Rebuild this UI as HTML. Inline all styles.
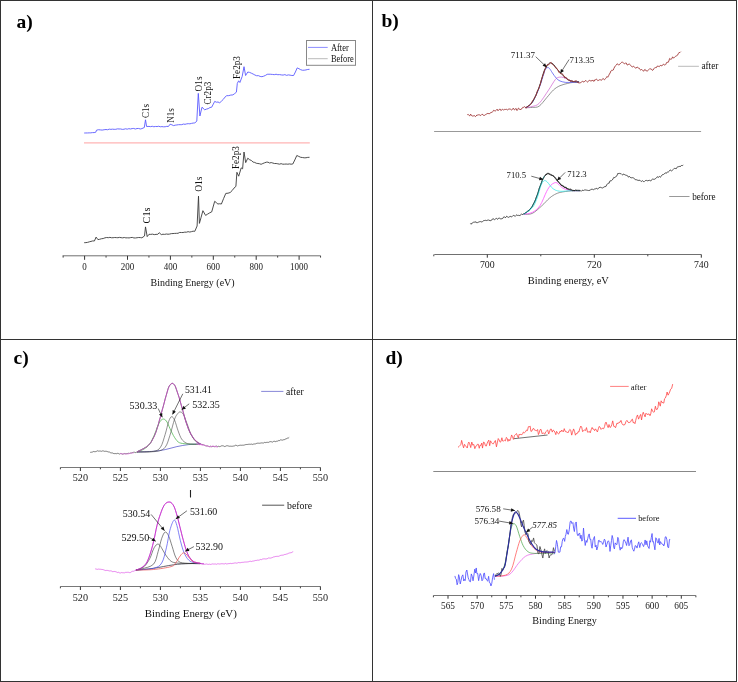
<!DOCTYPE html>
<html><head><meta charset="utf-8"><style>
html,body{margin:0;padding:0;background:#fff;}
svg{display:block;will-change:transform;font-family:"Liberation Serif",serif;}
</style></head><body>
<svg width="738" height="682" viewBox="0 0 738 682">
<rect x="0" y="0" width="738" height="682" fill="#fff"/>
<line x1="0.5" y1="0" x2="0.5" y2="682" stroke="#333" stroke-width="1.0"/>
<line x1="0" y1="0.5" x2="737" y2="0.5" stroke="#333" stroke-width="1.0"/>
<line x1="736.5" y1="0" x2="736.5" y2="682" stroke="#333" stroke-width="1.0"/>
<line x1="0" y1="681.5" x2="737" y2="681.5" stroke="#333" stroke-width="1.0"/>
<line x1="372.5" y1="0" x2="372.5" y2="682" stroke="#333" stroke-width="1.0"/>
<line x1="0" y1="339.5" x2="737" y2="339.5" stroke="#333" stroke-width="1.0"/>
<text x="16.5" y="27.8" font-size="19.5" fill="#000" font-weight="bold">a)</text>
<text x="381.5" y="26.7" font-size="19.5" fill="#000" font-weight="bold">b)</text>
<text x="13.5" y="364" font-size="19.5" fill="#000" font-weight="bold">c)</text>
<text x="385.5" y="364" font-size="19.5" fill="#000" font-weight="bold">d)</text>
<line x1="84" y1="142.8" x2="309.8" y2="142.8" stroke="#ffb4b4" stroke-width="1.2"/>
<polyline points="84.2,133 85.86,132.97 87.51,132.94 89.17,132.86 90.83,132.85 92.49,132.6 94.14,132.61 95.8,132.2 96.5,130.2 98.4,129.73 100.3,129.9 102.2,130.09 104.1,129.74 106,129.5 107.63,129.74 109.26,129.15 110.9,129.36 112.53,129.16 114.16,129.33 115.79,129.31 117.42,128.87 119.05,128.97 120.69,128.98 122.32,129.38 123.95,129.24 125.58,128.77 127.21,129.18 128.85,128.67 130.48,128.97 132.11,128.58 133.74,128.46 135.37,129.02 137,128.52 138.64,128.48 140.27,128.98 141.9,128.6 144.3,127.5 145.5,119.8 146.6,126.5 149,126.4 150.62,126.67 152.23,126.27 153.85,126.75 155.47,126.46 157.08,126.57 158.7,126.24 160.32,126.77 161.93,126.6 163.55,126.8 165.17,126.76 166.78,126.35 168.4,126.5 170.1,124.2 171.85,124.8 173.6,125.6 175.23,125.17 176.86,124.95 178.49,124.7 180.12,124.66 181.75,124.67 183.38,124.05 185.02,124.32 186.65,123.89 188.28,123.67 189.91,123.82 191.54,123.39 193.17,123.07 194.8,123 196.8,121 198.3,93.4 199.9,116 202,107.2 204.7,109.8 206.45,109.14 208.2,108.64 209.95,107.54 211.7,107.2 214.7,101.4 216.37,102.2 218.03,102 219.7,102.8 221.45,101.2 223.2,99.49 224.95,97.14 226.7,95.7 228.77,95.63 230.83,95.07 232.9,94.9 234.65,93.6 236.4,92.2 237.3,83.4 238.7,80.8 239.9,82.5 242.2,76.4 244,66.7 245.6,75.5 247.8,72 249.58,72.41 251.35,73.18 253.12,74.03 254.9,75 256.65,75.74 258.4,75.64 260.15,76.45 261.9,76.7 263.67,76.2 265.43,75.41 267.2,74.3 268.97,74.23 270.74,74.28 272.51,74.45 274.29,74.66 276.06,74.24 277.83,74.73 279.6,74.6 281.35,74.92 283.1,75.08 284.85,74.61 286.6,75.36 288.35,74.88 290.1,75.16 291.85,75.47 293.6,75.5 295.4,71.99 297.2,67.9 298.95,68.69 300.7,69.7 302.45,70.25 304.2,70.2 305.97,69.93 307.73,69.47 309.5,69.3" fill="none" stroke="#5a5aff" stroke-width="0.9" stroke-linejoin="round" />
<polyline points="84.2,242.7 85.9,242.62 87.6,242.36 89.3,241.84 91,241.4 92.7,240.93 94.4,241 96.1,237.1 97.9,239.6 99.66,239.29 101.42,238.74 103.18,238.52 104.94,237.83 106.7,237.5 108.3,237.7 109.9,237.37 111.5,237.75 113.1,237.72 114.7,237.51 116.3,237.61 117.9,237.72 119.5,237.39 121.1,237.66 122.7,237.85 124.3,237.49 125.9,237.88 127.5,237.81 129.1,237.93 130.7,237.59 132.3,237.43 133.9,237.94 135.5,237.96 137.1,237.72 138.7,237.49 140.3,237.57 141.9,237.8 144.5,236 145.5,226.9 147.2,236.6 149,234.3 150.76,234.39 152.52,234.15 154.28,234.62 156.04,234.36 157.8,234.3 159.2,232.7 161.3,234.6 162.98,234.23 164.65,234.38 166.33,234.01 168,234.24 169.68,234.06 171.35,233.62 173.03,233.55 174.7,233.42 176.38,233.33 178.05,233.28 179.73,232.45 181.4,232.52 183.08,232.53 184.75,232.15 186.43,232.19 188.1,231.67 189.78,232.06 191.45,231.65 193.12,231.2 194.8,231.3 197.1,226 198.5,196.1 199.4,223.4 201.15,217.16 202.9,210.7 205.6,215.4 207.63,214.1 209.67,212.85 211.7,211.9 214.7,201.3 216.3,202.64 217.9,204 219.65,203.75 221.4,204 223.6,198.5 225.8,193.4 228,193.21 230.2,192.5 232.1,190.61 234,188.09 235.9,186.4 236.9,172.3 238.7,176.2 241.2,167.9 242.6,168.8 244,152 245.7,162.6 247.8,158.2 249.57,159.69 251.33,160.46 253.1,162.1 254.7,162.42 256.3,163.26 257.9,163.5 259.5,163.72 261.1,164.3 262.83,163.51 264.57,162.82 266.3,162.2 267.94,162.17 269.59,163.01 271.23,162.57 272.87,163.06 274.51,163.52 276.16,163.5 277.8,163.8 279.47,164.16 281.13,163.67 282.8,164.2 284.47,164.16 286.13,164.03 287.8,164.21 289.47,163.92 291.13,164.21 292.8,164 294.8,159.96 296.8,155.5 298.75,156.41 300.7,157.3 302.45,157.53 304.2,157.8 305.97,157.78 307.73,157.4 309.5,157.3" fill="none" stroke="#3a3a3a" stroke-width="0.9" stroke-linejoin="round" />
<text transform="translate(149.2,118.1) rotate(-90)" font-size="10" fill="#111" textLength="14.3" lengthAdjust="spacingAndGlyphs">C1s</text>
<text transform="translate(174.2,122.7) rotate(-90)" font-size="10" fill="#111" textLength="14.6" lengthAdjust="spacingAndGlyphs">N1s</text>
<text transform="translate(201.6,91.4) rotate(-90)" font-size="10" fill="#111" textLength="15" lengthAdjust="spacingAndGlyphs">O1s</text>
<text transform="translate(211.4,104.6) rotate(-90)" font-size="10" fill="#111" textLength="22.9" lengthAdjust="spacingAndGlyphs">Cr2p3</text>
<text transform="translate(239.9,79) rotate(-90)" font-size="10" fill="#111" textLength="22.9" lengthAdjust="spacingAndGlyphs">Fe2p3</text>
<text transform="translate(149.5,223.4) rotate(-90)" font-size="10" fill="#111" textLength="15.9" lengthAdjust="spacingAndGlyphs">C1s</text>
<text transform="translate(201.5,191.7) rotate(-90)" font-size="10" fill="#111" textLength="15.2" lengthAdjust="spacingAndGlyphs">O1s</text>
<text transform="translate(238.7,169.1) rotate(-90)" font-size="10" fill="#111" textLength="22.9" lengthAdjust="spacingAndGlyphs">Fe2p3</text>
<rect x="306.5" y="40.5" width="49" height="24.8" fill="none" stroke="#888" stroke-width="1"/>
<line x1="308" y1="47.4" x2="327.7" y2="47.4" stroke="#8c8cff" stroke-width="1"/>
<line x1="308" y1="58.7" x2="327.7" y2="58.7" stroke="#bbb" stroke-width="1"/>
<text x="330.9" y="50.5" font-size="9.6" fill="#111" textLength="17.8" lengthAdjust="spacingAndGlyphs">After</text>
<text x="330.9" y="61.9" font-size="9.6" fill="#111" textLength="22.9" lengthAdjust="spacingAndGlyphs">Before</text>
<line x1="62.6" y1="255.8" x2="320.6" y2="255.8" stroke="#707070" stroke-width="1"/>
<line x1="84.6" y1="255.8" x2="84.6" y2="259.8" stroke="#333" stroke-width="1"/>
<line x1="127.5" y1="255.8" x2="127.5" y2="259.8" stroke="#333" stroke-width="1"/>
<line x1="170.4" y1="255.8" x2="170.4" y2="259.8" stroke="#333" stroke-width="1"/>
<line x1="213.3" y1="255.8" x2="213.3" y2="259.8" stroke="#333" stroke-width="1"/>
<line x1="256.2" y1="255.8" x2="256.2" y2="259.8" stroke="#333" stroke-width="1"/>
<line x1="299.1" y1="255.8" x2="299.1" y2="259.8" stroke="#333" stroke-width="1"/>
<line x1="63.15" y1="255.8" x2="63.15" y2="257.6" stroke="#444" stroke-width="1"/>
<line x1="106.05" y1="255.8" x2="106.05" y2="257.6" stroke="#444" stroke-width="1"/>
<line x1="148.95" y1="255.8" x2="148.95" y2="257.6" stroke="#444" stroke-width="1"/>
<line x1="191.85" y1="255.8" x2="191.85" y2="257.6" stroke="#444" stroke-width="1"/>
<line x1="234.75" y1="255.8" x2="234.75" y2="257.6" stroke="#444" stroke-width="1"/>
<line x1="277.65" y1="255.8" x2="277.65" y2="257.6" stroke="#444" stroke-width="1"/>
<line x1="320.55" y1="255.8" x2="320.55" y2="257.6" stroke="#444" stroke-width="1"/>
<text x="84.6" y="269.6" font-size="9.5" fill="#1a1a1a" text-anchor="middle" textLength="4.5" lengthAdjust="spacingAndGlyphs">0</text>
<text x="127.5" y="269.6" font-size="9.5" fill="#1a1a1a" text-anchor="middle" textLength="13.5" lengthAdjust="spacingAndGlyphs">200</text>
<text x="170.4" y="269.6" font-size="9.5" fill="#1a1a1a" text-anchor="middle" textLength="13.5" lengthAdjust="spacingAndGlyphs">400</text>
<text x="213.3" y="269.6" font-size="9.5" fill="#1a1a1a" text-anchor="middle" textLength="13.5" lengthAdjust="spacingAndGlyphs">600</text>
<text x="256.2" y="269.6" font-size="9.5" fill="#1a1a1a" text-anchor="middle" textLength="13.5" lengthAdjust="spacingAndGlyphs">800</text>
<text x="299.1" y="269.6" font-size="9.5" fill="#1a1a1a" text-anchor="middle" textLength="18" lengthAdjust="spacingAndGlyphs">1000</text>
<text x="150.6" y="285.7" font-size="10" fill="#111" textLength="84" lengthAdjust="spacingAndGlyphs">Binding Energy (eV)</text>
<path d="M525.7,107.7 C526.8,107.65 530.07,107.65 532.3,107.4 C534.53,107.15 536.7,107.82 539.1,106.2 C541.5,104.58 544.32,100.4 546.7,97.7 C549.08,95 551.18,92 553.4,90 C555.62,88 557.62,86.8 560,85.7 C562.38,84.6 565.53,83.95 567.7,83.4 C569.87,82.85 571.1,82.65 573,82.4 C574.9,82.15 578.08,81.98 579.1,81.9" fill="none" stroke="#666" stroke-width="0.7" stroke-linejoin="round" />
<path d="M525.7,107.7 C526.75,107.5 529.77,107.22 532,106.5 C534.23,105.78 536.33,106.15 539.1,103.4 C541.87,100.65 545.9,93.97 548.6,90 C551.3,86.03 553.55,81.73 555.3,79.6 C557.05,77.47 557.67,77.53 559.1,77.2 C560.53,76.87 562.15,77.05 563.9,77.6 C565.65,78.15 567.92,79.83 569.6,80.5 C571.28,81.17 572.43,81.35 574,81.6 C575.57,81.85 578.17,81.93 579,82" fill="none" stroke="#d060d0" stroke-width="0.7" stroke-linejoin="round" />
<path d="M525.7,107.7 C526.82,106.82 530.17,105.67 532.4,102.4 C534.63,99.13 537.35,92.38 539.1,88.1 C540.85,83.82 541.87,79.8 542.9,76.7 C543.93,73.6 544.52,71.02 545.3,69.5 C546.08,67.98 546.88,67.75 547.6,67.6 C548.32,67.45 548.8,67.72 549.6,68.6 C550.4,69.48 551.3,71.32 552.4,72.9 C553.5,74.48 554.93,76.75 556.2,78.1 C557.47,79.45 558.4,80.28 560,81 C561.6,81.72 563.8,82.18 565.8,82.4 C567.8,82.62 569.8,82.37 572,82.3 C574.2,82.23 577.83,82.05 579,82" fill="none" stroke="#5a5af0" stroke-width="0.8" stroke-linejoin="round" />
<path d="M525.7,107.7 C526.82,106.75 530.17,105.42 532.4,102 C534.63,98.58 537.2,92.22 539.1,87.2 C541,82.18 542.62,75.23 543.8,71.9 C544.98,68.57 545.4,68.55 546.2,67.2 C547,65.85 547.88,64.52 548.6,63.8 C549.32,63.08 549.7,62.82 550.5,62.9 C551.3,62.98 552.45,63.43 553.4,64.3 C554.35,65.17 555.1,66.75 556.2,68.1 C557.3,69.45 558.72,71.05 560,72.4 C561.28,73.75 562.47,74.93 563.9,76.2 C565.33,77.47 567.02,79.12 568.6,80 C570.18,80.88 571.65,81.17 573.4,81.5 C575.15,81.83 578.15,81.92 579.1,82" fill="none" stroke="#333" stroke-width="1.0" stroke-linejoin="round" />
<polyline points="467.3,114.68 468.12,114.38 468.82,115.06 469.73,115.92 470.67,114.11 471.33,115.4 472.11,116.09 472.86,115.88 473.66,115.87 474.5,115.56 475.36,116.7 476.06,116.08 476.93,114.96 477.64,115.12 478.44,114.81 479.37,114.81 480.23,115.43 481.07,115.27 481.91,114.33 482.86,114.44 483.58,115.48 484.46,115.38 485.36,114.71 486.29,114.2 487.15,113.5 488.04,113.61 488.91,113.56 489.66,113.73 490.3,112.86 491.14,112.21 491.86,112.65 492.71,111.63 493.56,110.31 494.37,110.65 495.33,110.98 496.2,110.31 497.15,109.2 497.99,110.77 498.71,109.99 499.37,109.29 500.13,109.05 500.85,110.51 501.66,109.98 502.61,109.16 503.57,110.16 504.47,109.41 505.3,109.49 505.96,109.34 506.65,109.37 507.34,109.95 508.18,109.33 509.12,108.95 509.93,109.11 510.68,109.27 511.53,110.01 512.27,109.62 513,108.26 513.72,108.67 514.41,109.93 515.17,109.24 516.05,108.41 517.01,110.55 517.67,109.68 518.45,108.12 519.4,108.83 520.21,109.97 521.08,109.01 522.03,108.66 522.87,107.22 523.71,107.31 524.41,106.65 525.22,107.03 526,108.18 526.79,107.44 527.61,106.84 528.5,105.55 529.46,105.48 530.34,104.8 531.01,103.98 531.9,102.04 532.66,100.63 533.52,99.6 534.35,98.17 535.23,96.42 535.95,95.88 536.88,92.68 537.53,90.44 538.26,89.95 539.1,87.69 539.91,85.2 540.58,83.34 541.4,79.72 542.16,77.46 542.86,75.35 543.74,73.31 544.41,70.78 545.31,68.63 546.19,66.21 546.97,64.95 547.87,64.49 548.72,64.93 549.46,63.5 550.34,62.8 551.12,62.42 551.79,63.98 552.45,64.19 553.27,65.14 554.13,65.91 555.02,66.79 555.73,68.06 556.39,67.87 557.27,69.14 558,70.18 558.75,72.31 559.51,72.29 560.38,73.47 561.31,74.01 562.24,73.81 563.14,74.56 563.88,76.11 564.82,77.99 565.54,77.39 566.3,77.46 567.06,78.66 567.77,79.88 568.66,80.09 569.57,79.87 570.26,81.42 571.19,81.03 571.83,80.57 572.65,80.97 573.6,82.14 574.49,81.09 575.31,81.26 575.98,80.4 576.85,81.5 577.52,82.05 578.2,82.98 579.05,82.53 579.76,83.08 580.57,82.82 581.34,81.98 582.29,81.38 583.08,81.43 583.95,82.23 584.89,81.15 585.79,80.43 586.71,81.41 587.61,82.04 588.56,81.24 589.37,80.18 590.26,80.85 591.04,80.7 591.91,80.95 592.67,79.96 593.38,81.14 594.11,81.26 594.77,79.8 595.45,79.78 596.34,79.21 597,79.48 597.82,80.7 598.48,80.41 599.18,79.89 599.89,79.71 600.72,79.89 601.42,80.19 602.12,79.71 602.85,78.5 603.76,79.1 604.48,79.79 605.41,78.68 606.23,77.77 607.02,76.53 607.68,77.28 608.57,75.77 609.38,74.09 610.11,72.99 610.96,70.93 611.6,70.34 612.36,70.4 613.23,70.05 613.92,68.38 614.67,66.92 615.58,65.61 616.43,64.93 617.15,63.74 617.84,64.39 618.48,64.8 619.39,64.71 620.06,63.83 620.93,62.96 621.72,62.26 622.67,62.27 623.58,63.08 624.47,63.92 625.41,62.95 626.31,63.11 627.13,64.95 627.82,65.06 628.56,64.11 629.22,63.98 630.01,64.68 630.76,65.33 631.44,66.24 632.23,67.14 633.13,66.31 633.78,66.3 634.64,67.28 635.46,68.11 636.11,68.17 637,67.01 637.84,67.44 638.6,68.11 639.34,68.27 640.1,69.65 640.82,70.11 641.7,69.36 642.64,70.34 643.51,71.31 644.42,69.83 645.1,69.37 645.96,70.82 646.66,70.85 647.56,70.9 648.23,70.37 648.92,69.46 649.69,68.66 650.63,68.91 651.43,69.16 652.32,70.36 653.08,69.99 653.85,68.77 654.62,67.82 655.57,67.59 656.43,67.6 657.07,66.2 657.82,66.19 658.49,66.33 659.3,66.66 660.2,65.38 660.89,65.52 661.82,65.94 662.57,64.83 663.26,64.28 664.22,64.85 665.08,65.07 665.79,64.36 666.63,62.48 667.29,62.28 668.12,62.47 668.86,61 669.62,58.48 670.3,59.1 670.98,59.38 671.8,58.76 672.62,56.82 673.55,58.09 674.45,57.41 675.13,56.74 675.86,56.07 676.58,55.79 677.48,55.28 678.3,53.68 678.95,52.58 679.9,52.57 680.76,51.68" fill="none" stroke="#a03838" stroke-width="0.9" stroke-linejoin="round" />
<line x1="535.7" y1="56.7" x2="546.7" y2="67.2" stroke="#111" stroke-width="0.6"/>
<polygon points="546.7,67.2 542.56,65.74 545.05,63.14" fill="#111"/>
<line x1="569.1" y1="59.5" x2="560.3" y2="73.3" stroke="#111" stroke-width="0.6"/>
<polygon points="560.3,73.3 560.93,68.96 563.97,70.9" fill="#111"/>
<text x="510.7" y="57.9" font-size="8.8" fill="#111" textLength="24.4" lengthAdjust="spacingAndGlyphs">711.37</text>
<text x="569.5" y="62.8" font-size="8.8" fill="#111" textLength="24.7" lengthAdjust="spacingAndGlyphs">713.35</text>
<line x1="434.1" y1="131.5" x2="701.1" y2="131.5" stroke="#999" stroke-width="1"/>
<line x1="678.1" y1="66.3" x2="698.9" y2="66.3" stroke="#bbb" stroke-width="1"/>
<text x="701.4" y="69.2" font-size="9.6" fill="#111" textLength="17" lengthAdjust="spacingAndGlyphs">after</text>
<polyline points="470.4,223.43 471.15,224.25 471.88,223.1 472.62,222.83 473.55,222.22 474.26,221.98 474.98,222.55 475.92,221.66 476.57,222.66 477.4,222.63 478.17,222.39 478.81,221.94 479.67,221.69 480.47,221.58 481.28,221.78 482.08,222.11 482.82,221.29 483.51,220.68 484.33,220.52 485.14,220.55 485.86,220.18 486.69,220.6 487.55,220.25 488.38,219.77 489.11,220.73 489.88,220.26 490.65,220.87 491.32,219.99 492.12,219.82 492.89,218.59 493.77,219.19 494.51,219.66 495.42,218.99 496.16,218.33 496.92,218.63 497.65,219.34 498.6,218.13 499.26,218.04 500.21,218.66 500.98,218.99 501.87,218.68 502.66,218.49 503.55,217.14 504.33,216.66 505.09,217.74 505.89,217.35 506.78,216.17 507.53,216.85 508.33,217.38 509.27,216.94 510.08,216.17 510.89,216.72 511.73,216.79 512.49,216.26 513.38,215.37 514.31,215.69 515.25,216.39 516.07,215.32 516.72,214.81 517.6,215.44 518.48,215.35 519.34,215.5 520.11,215.65 520.88,214.41 521.53,213.9 522.24,214.64 523.05,214.22 523.71,213.58 524.59,213.6 525.47,212.8 526.15,213.17 526.83,211.92 527.64,211.25 528.38,211.02 529.12,210.85 530,209.31 530.95,207.72 531.66,207.29 532.47,206.66 533.18,204.46 533.92,202.68 534.7,202.06 535.52,199.82 536.23,197.37 537,195.46 537.74,193.8 538.47,191.33 539.31,188.05 540.25,185.94 540.93,184.44 541.73,182.06 542.54,179.08 543.34,178.6 544.23,176.92 544.94,175.6 545.74,175.14 546.41,173.89 547.24,173.55 547.96,173.01 548.6,173.4 549.53,174.2 550.49,175.16 551.31,175.31 552.13,175.92 552.88,175.24 553.81,176.12 554.57,177.21 555.24,178.36 556.13,179.47 557,180.72 557.74,181.51 558.69,182.51 559.39,182.94 560.24,183.65 561.1,185.32 562.06,185.65 562.85,185.23 563.8,186.68 564.58,187.86 565.36,187.08 566.16,187.21 566.96,188.88 567.69,189.31 568.53,189.15 569.43,189.24 570.38,189.03 571.17,189.32 572.04,190.49 572.95,190.97 573.85,190.64 574.68,190.75 575.59,189.94 576.26,190.24 577,189.95 577.77,190.39 578.61,190.28 579.52,190.33 580.3,190.42 581.11,191.33 582.03,190.36 582.96,190.22 583.61,190.5 584.51,189.99 585.27,189.96 586.07,190.04 586.74,190.2 587.66,190.35 588.45,190.52 589.18,190.25 589.98,190.55 590.89,189.35 591.69,189.3 592.62,189.32 593.46,189.7 594.31,189.11 595.27,188.93 595.95,188.53 596.71,188.29 597.39,189.13 598.31,188.62 599.11,187.47 600.05,187.6 600.74,187.28 601.7,187.77 602.46,187.98 603.22,187.54 604.06,187.05 604.92,186.52 605.83,186.59 606.74,184.81 607.64,183.66 608.37,183.24 609.04,183.37 609.99,180.84 610.71,180.79 611.37,180.71 612.28,180.02 612.98,178.93 613.87,177.3 614.79,177.63 615.71,176.95 616.61,176.03 617.25,174.85 618.05,173.09 618.73,173.69 619.66,173.39 620.31,173.66 621.04,173.57 621.83,174.44 622.49,175.08 623.19,174.18 623.99,174.04 624.7,174.77 625.36,175.03 626.04,175.36 626.78,175.4 627.71,175.89 628.62,177.28 629.4,176.33 630.26,177.2 630.98,178.04 631.69,177.71 632.34,177.65 633.24,177.8 633.94,178.36 634.68,178.82 635.33,179.73 636.23,179.71 637.13,179.96 638.08,180.5 638.95,180.29 639.9,180.24 640.77,181.18 641.72,181.4 642.46,180.7 643.36,181.48 644.08,181.75 644.95,180.86 645.63,180.49 646.46,180.41 647.3,180.76 648.12,180.8 649.02,180.14 649.69,180.43 650.37,180.8 651.23,180.67 651.87,179.74 652.57,178.87 653.36,179.27 654.25,179.36 655.04,178.85 655.74,178.54 656.44,177.84 657.2,176.73 658.09,177.27 658.82,177.22 659.47,176.37 660.29,177.16 661.03,176.6 661.98,175.07 662.64,174.56 663.55,174.44 664.39,173.89 665.26,172.87 666.2,173.15 666.98,172.82 667.8,171.65 668.56,171.89 669.5,170.97 670.23,169.86 671.1,170.66 671.74,170.9 672.66,170.01 673.49,169.27 674.43,168.3 675.3,168.41 676.05,168.94 676.89,167.41 677.68,166.92 678.33,166.75 679.27,166.32 679.92,167 680.82,165.83 681.49,165.5 682.34,165.57 683.24,165.05" fill="none" stroke="#333" stroke-width="0.85" stroke-linejoin="round" />
<path d="M523.7,214.3 C525.13,214.15 529.28,214.82 532.3,213.4 C535.32,211.98 538.93,208.35 541.8,205.8 C544.67,203.25 547.12,200.1 549.5,198.1 C551.88,196.1 553.88,194.83 556.1,193.8 C558.32,192.77 559.93,192.42 562.8,191.9 C565.67,191.38 570.43,190.9 573.3,190.7 C576.17,190.5 578.88,190.7 580,190.7" fill="none" stroke="#666" stroke-width="0.7" stroke-linejoin="round" />
<path d="M523.7,214.3 C525.13,213.98 529.6,213.82 532.3,212.4 C535,210.98 537.52,209.28 539.9,205.8 C542.28,202.32 544.85,194.85 546.6,191.5 C548.35,188.15 549.13,187.13 550.4,185.7 C551.67,184.27 553.08,183.37 554.2,182.9 C555.32,182.43 556.13,182.43 557.1,182.9 C558.07,183.37 558.88,184.75 560,185.7 C561.12,186.65 561.9,187.8 563.8,188.6 C565.7,189.4 568.7,190.15 571.4,190.5 C574.1,190.85 578.57,190.67 580,190.7" fill="none" stroke="#ff50ff" stroke-width="0.8" stroke-linejoin="round" />
<path d="M523.7,214.3 C525.13,213.2 530.07,210.4 532.3,207.7 C534.53,205 535.67,201.77 537.1,198.1 C538.53,194.43 539.8,188.55 540.9,185.7 C542,182.85 542.83,181.78 543.7,181 C544.57,180.22 545.3,180.6 546.1,181 C546.9,181.4 547.62,182.37 548.5,183.4 C549.38,184.43 550.28,186.1 551.4,187.2 C552.52,188.3 553.62,189.32 555.2,190 C556.78,190.68 558.37,191.18 560.9,191.3 C563.43,191.42 567.22,190.8 570.4,190.7 C573.58,190.6 578.4,190.7 580,190.7" fill="none" stroke="#40e8e8" stroke-width="0.8" stroke-linejoin="round" />
<path d="M523.7,214.3 C524.97,213.2 529.23,210.4 531.3,207.7 C533.37,205 534.67,201.6 536.1,198.1 C537.53,194.6 538.78,189.87 539.9,186.7 C541.02,183.53 542,180.93 542.8,179.1 C543.6,177.27 544.38,176.27 544.7,175.7" fill="none" stroke="#1a6a6a" stroke-width="1.0" stroke-linejoin="round" />
<path d="M544.7,175.7 C545.18,175.38 546.65,174.03 547.6,173.8 C548.55,173.57 549.3,173.82 550.4,174.3 C551.5,174.78 553.08,175.75 554.2,176.7 C555.32,177.65 555.98,178.65 557.1,180 C558.22,181.35 559.63,183.6 560.9,184.8 C562.17,186 563.27,186.4 564.7,187.2 C566.13,188 567.95,189.05 569.5,189.6 C571.05,190.15 572.25,190.32 574,190.5 C575.75,190.68 579,190.67 580,190.7" fill="none" stroke="#222" stroke-width="1.0" stroke-linejoin="round" />
<line x1="531.3" y1="176.2" x2="543.3" y2="179.5" stroke="#111" stroke-width="0.6"/>
<polygon points="543.3,179.5 538.97,180.17 539.92,176.7" fill="#111"/>
<line x1="565.2" y1="172.4" x2="557.1" y2="180.5" stroke="#111" stroke-width="0.6"/>
<polygon points="557.1,180.5 558.66,176.4 561.2,178.94" fill="#111"/>
<text x="506.6" y="177.8" font-size="8.8" fill="#111" textLength="19.5" lengthAdjust="spacingAndGlyphs">710.5</text>
<text x="567.2" y="176.5" font-size="8.8" fill="#111" textLength="19.5" lengthAdjust="spacingAndGlyphs">712.3</text>
<line x1="669.2" y1="196.5" x2="689.5" y2="196.5" stroke="#999" stroke-width="1"/>
<text x="692.2" y="199.8" font-size="9.6" fill="#111" textLength="23.3" lengthAdjust="spacingAndGlyphs">before</text>
<line x1="434.3" y1="254.5" x2="701.3" y2="254.5" stroke="#707070" stroke-width="1"/>
<line x1="487.3" y1="254.5" x2="487.3" y2="257.7" stroke="#333" stroke-width="1"/>
<line x1="594.3" y1="254.5" x2="594.3" y2="257.7" stroke="#333" stroke-width="1"/>
<line x1="701.3" y1="254.5" x2="701.3" y2="257.7" stroke="#333" stroke-width="1"/>
<line x1="433.8" y1="254.5" x2="433.8" y2="256.3" stroke="#444" stroke-width="1"/>
<line x1="540.8" y1="254.5" x2="540.8" y2="256.3" stroke="#444" stroke-width="1"/>
<line x1="647.8" y1="254.5" x2="647.8" y2="256.3" stroke="#444" stroke-width="1"/>
<text x="487.3" y="267.9" font-size="9.8" fill="#1a1a1a" text-anchor="middle">700</text>
<text x="594.3" y="267.9" font-size="9.8" fill="#1a1a1a" text-anchor="middle">720</text>
<text x="701.3" y="267.9" font-size="9.8" fill="#1a1a1a" text-anchor="middle">740</text>
<text x="527.8" y="284" font-size="10" fill="#111" textLength="81" lengthAdjust="spacingAndGlyphs">Binding energy, eV</text>
<line x1="60.4" y1="467.5" x2="320.6" y2="467.5" stroke="#787878" stroke-width="1"/>
<line x1="80.4" y1="467.5" x2="80.4" y2="471" stroke="#333" stroke-width="1"/>
<line x1="120.4" y1="467.5" x2="120.4" y2="471" stroke="#333" stroke-width="1"/>
<line x1="160.4" y1="467.5" x2="160.4" y2="471" stroke="#333" stroke-width="1"/>
<line x1="200.4" y1="467.5" x2="200.4" y2="471" stroke="#333" stroke-width="1"/>
<line x1="240.4" y1="467.5" x2="240.4" y2="471" stroke="#333" stroke-width="1"/>
<line x1="280.4" y1="467.5" x2="280.4" y2="471" stroke="#333" stroke-width="1"/>
<line x1="320.4" y1="467.5" x2="320.4" y2="471" stroke="#333" stroke-width="1"/>
<line x1="60.4" y1="467.5" x2="60.4" y2="469.3" stroke="#444" stroke-width="1"/>
<line x1="100.4" y1="467.5" x2="100.4" y2="469.3" stroke="#444" stroke-width="1"/>
<line x1="140.4" y1="467.5" x2="140.4" y2="469.3" stroke="#444" stroke-width="1"/>
<line x1="180.4" y1="467.5" x2="180.4" y2="469.3" stroke="#444" stroke-width="1"/>
<line x1="220.4" y1="467.5" x2="220.4" y2="469.3" stroke="#444" stroke-width="1"/>
<line x1="260.4" y1="467.5" x2="260.4" y2="469.3" stroke="#444" stroke-width="1"/>
<line x1="300.4" y1="467.5" x2="300.4" y2="469.3" stroke="#444" stroke-width="1"/>
<text x="80.4" y="481.2" font-size="10.2" fill="#1a1a1a" text-anchor="middle">520</text>
<text x="120.4" y="481.2" font-size="10.2" fill="#1a1a1a" text-anchor="middle">525</text>
<text x="160.4" y="481.2" font-size="10.2" fill="#1a1a1a" text-anchor="middle">530</text>
<text x="200.4" y="481.2" font-size="10.2" fill="#1a1a1a" text-anchor="middle">535</text>
<text x="240.4" y="481.2" font-size="10.2" fill="#1a1a1a" text-anchor="middle">540</text>
<text x="280.4" y="481.2" font-size="10.2" fill="#1a1a1a" text-anchor="middle">545</text>
<text x="320.4" y="481.2" font-size="10.2" fill="#1a1a1a" text-anchor="middle">550</text>
<line x1="60.4" y1="586.5" x2="320.6" y2="586.5" stroke="#787878" stroke-width="1"/>
<line x1="80.4" y1="586.5" x2="80.4" y2="590" stroke="#333" stroke-width="1"/>
<line x1="120.4" y1="586.5" x2="120.4" y2="590" stroke="#333" stroke-width="1"/>
<line x1="160.4" y1="586.5" x2="160.4" y2="590" stroke="#333" stroke-width="1"/>
<line x1="200.4" y1="586.5" x2="200.4" y2="590" stroke="#333" stroke-width="1"/>
<line x1="240.4" y1="586.5" x2="240.4" y2="590" stroke="#333" stroke-width="1"/>
<line x1="280.4" y1="586.5" x2="280.4" y2="590" stroke="#333" stroke-width="1"/>
<line x1="320.4" y1="586.5" x2="320.4" y2="590" stroke="#333" stroke-width="1"/>
<line x1="60.4" y1="586.5" x2="60.4" y2="588.3" stroke="#444" stroke-width="1"/>
<line x1="100.4" y1="586.5" x2="100.4" y2="588.3" stroke="#444" stroke-width="1"/>
<line x1="140.4" y1="586.5" x2="140.4" y2="588.3" stroke="#444" stroke-width="1"/>
<line x1="180.4" y1="586.5" x2="180.4" y2="588.3" stroke="#444" stroke-width="1"/>
<line x1="220.4" y1="586.5" x2="220.4" y2="588.3" stroke="#444" stroke-width="1"/>
<line x1="260.4" y1="586.5" x2="260.4" y2="588.3" stroke="#444" stroke-width="1"/>
<line x1="300.4" y1="586.5" x2="300.4" y2="588.3" stroke="#444" stroke-width="1"/>
<text x="80.4" y="600.7" font-size="10.2" fill="#1a1a1a" text-anchor="middle">520</text>
<text x="120.4" y="600.7" font-size="10.2" fill="#1a1a1a" text-anchor="middle">525</text>
<text x="160.4" y="600.7" font-size="10.2" fill="#1a1a1a" text-anchor="middle">530</text>
<text x="200.4" y="600.7" font-size="10.2" fill="#1a1a1a" text-anchor="middle">535</text>
<text x="240.4" y="600.7" font-size="10.2" fill="#1a1a1a" text-anchor="middle">540</text>
<text x="280.4" y="600.7" font-size="10.2" fill="#1a1a1a" text-anchor="middle">545</text>
<text x="320.4" y="600.7" font-size="10.2" fill="#1a1a1a" text-anchor="middle">550</text>
<polyline points="90.2,452.36 91.2,452.23 92.2,452.2 93.2,451.53 94.2,451.67 95.2,451.7 96.2,451.52 97.2,450.72 98.2,451.12 99.2,451.08 100.2,450.96 101.2,451.36 102.2,450.96 103.2,450.87 104.2,451.3 105.2,451.25 106.2,451.24 107.2,451.53 108.2,451.98 109.2,451.87 110.2,452.63 111.2,452.93 112.2,452.83 113.2,453.39 114.2,453.65 115.2,453.5 116.2,453.79 117.2,453.37 118.2,453.33 119.2,454.18 120.2,453.58 121.2,453.53 122.2,454.17 123.2,454.06 124.2,453.51 125.2,453.71 126.2,453.66 127.2,453.61 128.2,453.2 129.2,453.5 130.2,453.13 131.2,453.04 132.2,452.67 133.2,452.39 134.2,452.1 135.2,452.63 136.2,452.3 137.2,451.86 138.2,451.01 139.2,450.58 140.2,450.09 141.2,449.8 142.2,449.06 143.2,448.73 144.2,448.07 145.2,447.42 146.2,447.16 147.2,446.25 148.2,445.43 149.2,444.35 150.2,443.32 151.2,442.17 152.2,440.1 153.2,438.04 154.2,436.34 155.2,433.86 156.2,431.52 157.2,427.84 158.2,425.24 159.2,420.95 160.2,417.69 161.2,413.83 162.2,409.97 163.2,406.76 164.2,402.89 165.2,398.8 166.2,395.46 167.2,392.02 168.2,388.41 169.2,386.05 170.2,384.83 171.2,383.92 172.2,383.31 173.2,383.59 174.2,384.65 175.2,385.98 176.2,389.01 177.2,391.96 178.2,394.71 179.2,397.52 180.2,401.24 181.2,405.08 182.2,408.26 183.2,411.82 184.2,415.63 185.2,419.62 186.2,422.79 187.2,425.5 188.2,428.44 189.2,430.9 190.2,433.11 191.2,434.81 192.2,436.11 193.2,437.93 194.2,439.32 195.2,440.38 196.2,441.24 197.2,441.95 198.2,442.64 199.2,443.58 200.2,443.89 201.2,444.44 202.2,444.43 203.2,444.67 204.2,445.11 205.2,445.67 206.2,445.94 207.2,445.88 208.2,446.12 209.2,446.79 210.2,445.99 211.2,446.75 212.2,446.59 213.2,446.4 214.2,446.77 215.2,446.47 216.2,445.86 217.2,446.68 218.2,446.2 219.2,446.64 220.2,446.53 221.2,445.91 222.2,445.81 223.2,445.78 224.2,446.46 225.2,446.43 226.2,445.88 227.2,445.73 228.2,445.92 229.2,446.26 230.2,446.17 231.2,446.24 232.2,446.29 233.2,446.05 234.2,446.08 235.2,445.3 236.2,445.25 237.2,445.98 238.2,445.71 239.2,445.41 240.2,445.19 241.2,445.29 242.2,445.19 243.2,445.22 244.2,445.07 245.2,444.73 246.2,444.51 247.2,444.51 248.2,444.33 249.2,444.2 250.2,444.37 251.2,444 252.2,444.49 253.2,444.15 254.2,443.96 255.2,444.01 256.2,443.54 257.2,443.23 258.2,443.16 259.2,443.27 260.2,443.17 261.2,442.95 262.2,442.88 263.2,443.23 264.2,442.36 265.2,442.64 266.2,442.45 267.2,442.24 268.2,442.52 269.2,441.94 270.2,441.66 271.2,441.64 272.2,442.25 273.2,441.56 274.2,441.16 275.2,441.73 276.2,441.25 277.2,441.33 278.2,440.58 279.2,440.81 280.2,439.93 281.2,439.91 282.2,440.22 283.2,439.77 284.2,439.79 285.2,439.04 286.2,439.11 287.2,438.01 288.2,438.13 289.2,437.36" fill="none" stroke="#555" stroke-width="0.75" stroke-linejoin="round" />
<path d="M137,452 C139.75,451.88 148.8,451.7 153.5,451.3 C158.2,450.9 161.3,450.38 165.2,449.6 C169.1,448.82 172.98,447.43 176.9,446.6 C180.82,445.77 184.78,445.05 188.7,444.6 C192.62,444.15 198.45,444.02 200.4,443.9" fill="none" stroke="#4848c8" stroke-width="0.7" stroke-linejoin="round" />
<path d="M137,451.9 C138.18,451.42 141.95,450.37 144.1,449 C146.25,447.63 148.15,446.15 149.9,443.7 C151.65,441.25 153.22,437.43 154.6,434.3 C155.98,431.17 157.12,427.25 158.2,424.9 C159.28,422.55 160.13,421.17 161.1,420.2 C162.07,419.23 163.02,418.8 164,419.1 C164.98,419.4 166.02,420.45 167,422 C167.98,423.55 168.83,426.15 169.9,428.4 C170.97,430.65 172.03,433.25 173.4,435.5 C174.77,437.75 176.33,440.53 178.1,441.9 C179.87,443.27 181.68,443.32 184,443.7 C186.32,444.08 189.27,444.1 192,444.2 C194.73,444.3 199,444.28 200.4,444.3" fill="none" stroke="#40b040" stroke-width="0.7" stroke-linejoin="round" />
<path d="M137,452 C139.75,451.88 149.58,452.1 153.5,451.3 C157.42,450.5 158.55,450.03 160.5,447.2 C162.45,444.37 163.83,438.6 165.2,434.3 C166.57,430 167.63,424.33 168.7,421.4 C169.77,418.47 170.62,416.9 171.6,416.7 C172.58,416.5 173.52,417.85 174.6,420.2 C175.68,422.55 176.93,427.67 178.1,430.8 C179.27,433.93 180.23,436.95 181.6,439 C182.97,441.05 184.57,442.25 186.3,443.1 C188.03,443.95 189.65,443.9 192,444.1 C194.35,444.3 199,444.27 200.4,444.3" fill="none" stroke="#444" stroke-width="0.6" stroke-linejoin="round" />
<path d="M137,452 C140.33,451.88 152.3,452.1 157,451.3 C161.7,450.5 163.05,449.83 165.2,447.2 C167.35,444.57 168.33,440.18 169.9,435.5 C171.47,430.82 173.23,422.82 174.6,419.1 C175.97,415.38 177.13,414.38 178.1,413.2 C179.07,412.02 179.52,411.8 180.4,412 C181.28,412.2 182.22,412.25 183.4,414.4 C184.58,416.55 186.23,421.58 187.5,424.9 C188.77,428.22 189.63,431.57 191,434.3 C192.37,437.03 194.13,439.73 195.7,441.3 C197.27,442.87 199.62,443.3 200.4,443.7" fill="none" stroke="#444" stroke-width="0.6" stroke-linejoin="round" />
<path d="M137,451.9 C138.18,451.32 141.95,449.77 144.1,448.4 C146.25,447.03 148.15,445.85 149.9,443.7 C151.65,441.55 153.22,438.63 154.6,435.5 C155.98,432.37 157.02,428.82 158.2,424.9 C159.38,420.98 160.53,416.3 161.7,412 C162.87,407.7 164.03,403.2 165.2,399.1 C166.37,395 167.57,390.03 168.7,387.4 C169.83,384.77 170.92,383.5 172,383.3 C173.08,383.1 174.18,384.35 175.2,386.2 C176.22,388.05 177.03,391.07 178.1,394.4 C179.17,397.73 180.43,402.08 181.6,406.2 C182.77,410.32 183.92,415.2 185.1,419.1 C186.28,423 187.33,426.48 188.7,429.6 C190.07,432.72 191.75,435.65 193.3,437.8 C194.85,439.95 196.43,441.32 198,442.5 C199.57,443.68 201.92,444.5 202.7,444.9" fill="none" stroke="#c848c8" stroke-width="0.8" stroke-linejoin="round" />
<polyline points="196,443.63 197,443.88 198,444.33 199,444.58 200,444.76 201,444.43 202,445.21 203,444.91 204,445.1 205,445.19 206,445.91 207,445.85 208,446.27 209,446.61 210,446.78 211,446.75 212,446.09 213,446.06 214,446.26 215,446.55 216,446.84 217,446.8 218,446.93" fill="none" stroke="#e070e0" stroke-width="0.8" stroke-linejoin="round" />
<polyline points="120,453.54 121,453.76 122,453.82 123,453.97 124,453.57 125,454.17 126,453.91 127,454.04 128,453.87 129,453.83 130,453.13 131,453.03 132,453.13 133,452.85 134,452.8" fill="none" stroke="#e070e0" stroke-width="0.7" stroke-linejoin="round" />
<line x1="158.2" y1="408.5" x2="162.3" y2="417.3" stroke="#111" stroke-width="0.6"/>
<polygon points="162.3,417.3 158.98,414.43 162.24,412.91" fill="#111"/>
<line x1="182.8" y1="393.8" x2="172.5" y2="414.4" stroke="#111" stroke-width="0.6"/>
<polygon points="172.5,414.4 172.68,410.02 175.9,411.63" fill="#111"/>
<line x1="189.2" y1="403.8" x2="181.6" y2="409.7" stroke="#111" stroke-width="0.6"/>
<polygon points="181.6,409.7 183.66,405.83 185.86,408.67" fill="#111"/>
<text x="129.6" y="408.8" font-size="10" fill="#111" textLength="27.6" lengthAdjust="spacingAndGlyphs">530.33</text>
<text x="185" y="393" font-size="10" fill="#111" textLength="26.8" lengthAdjust="spacingAndGlyphs">531.41</text>
<text x="192.2" y="408.2" font-size="10" fill="#111" textLength="27.6" lengthAdjust="spacingAndGlyphs">532.35</text>
<line x1="261.2" y1="391.4" x2="283.4" y2="391.4" stroke="#8888d8" stroke-width="1"/>
<text x="286" y="394.7" font-size="9.5" fill="#111" textLength="17.6" lengthAdjust="spacingAndGlyphs">after</text>
<line x1="190.5" y1="490" x2="190.5" y2="497.5" stroke="#222" stroke-width="1.1"/>
<polyline points="95.2,568.84 96.2,569.05 97.2,569.4 98.2,569.05 99.2,569.21 100.2,569.2 101.2,569.38 102.2,569.43 103.2,569.66 104.2,570.03 105.2,570.49 106.2,570.41 107.2,570.36 108.2,570.56 109.2,570.94 110.2,570.87 111.2,570.87 112.2,571.59 113.2,571.62 114.2,571.45 115.2,571.6 116.2,571.8 117.2,572.58 118.2,572.17 119.2,572.71 120.2,573.14 121.2,572.54 122.2,572.72 123.2,572.73 124.2,572.97 125.2,572.4 126.2,572.38 127.2,572.32 128.2,572.18 129.2,572.62 130.2,572.64 131.2,571.97 132.2,571.28 133.2,571.35 134.2,570.96 135.2,570.49 136.2,569.87 137.2,569.88 138.2,569.39 139.2,569 140.2,568.53 141.2,567.79 142.2,567.31 143.2,566.78 144.2,565.83 145.2,564.51 146.2,563.5 147.2,561.77 148.2,559.06 149.2,556.55 150.2,553.65 151.2,550.26 152.2,547.18 153.2,543.19 154.2,538.72 155.2,534.26 156.2,529.01 157.2,524.54 158.2,520.74 159.2,517.6 160.2,514.93 161.2,511.97 162.2,509.04 163.2,507.09 164.2,505.01 165.2,504.06 166.2,502.8 167.2,502.24 168.2,502.19 169.2,502.2 170.2,502.23 171.2,502.55 172.2,503.79 173.2,504.96 174.2,506.72 175.2,509.46 176.2,512.87 177.2,516.36 178.2,519.78 179.2,524.14 180.2,528.26 181.2,531.93 182.2,536.35 183.2,539.7 184.2,543.23 185.2,546.92 186.2,550.23 187.2,552.77 188.2,554.98 189.2,556.78 190.2,558.07 191.2,559.26 192.2,560.32 193.2,561.25 194.2,562.16 195.2,561.98 196.2,562.4 197.2,563.13 198.2,563.15 199.2,562.96 200.2,563.39 201.2,563.7 202.2,564.03 203.2,563.59 204.2,564.29 205.2,564.25 206.2,563.96 207.2,564.18 208.2,564.44 209.2,564.08 210.2,564.43 211.2,564.3 212.2,563.92 213.2,564.02 214.2,564.08 215.2,563.86 216.2,564.38 217.2,563.86 218.2,563.81 219.2,564.03 220.2,563.94 221.2,563.76 222.2,563.73 223.2,563.81 224.2,564.05 225.2,563.4 226.2,563.92 227.2,563.88 228.2,563.63 229.2,563.65 230.2,563.29 231.2,563.64 232.2,563.42 233.2,563.32 234.2,563.09 235.2,562.86 236.2,563.13 237.2,563.09 238.2,562.52 239.2,562.67 240.2,562.76 241.2,562.47 242.2,562.35 243.2,562.33 244.2,562.11 245.2,562.02 246.2,562.04 247.2,561.95 248.2,561.88 249.2,561.48 250.2,561.18 251.2,561.57 252.2,561.2 253.2,561.07 254.2,560.91 255.2,560.48 256.2,560.51 257.2,560.15 258.2,560.21 259.2,560.16 260.2,559.43 261.2,559.81 262.2,559.17 263.2,558.93 264.2,558.8 265.2,558.94 266.2,558.93 267.2,558.77 268.2,558.03 269.2,558.01 270.2,558.16 271.2,557.91 272.2,557.66 273.2,557.05 274.2,556.86 275.2,556.56 276.2,556.43 277.2,556.32 278.2,556.39 279.2,556.08 280.2,555.53 281.2,555.27 282.2,555.16 283.2,555.17 284.2,554.58 285.2,554.51 286.2,554.14 287.2,553.98 288.2,553.42 289.2,553.04 290.2,552.8 291.2,552.74 292.2,552.08 293.2,551.72" fill="none" stroke="#e060e8" stroke-width="0.75" stroke-linejoin="round" />
<path d="M135.9,570.1 C138.83,569.8 147.25,569.18 153.5,568.3 C159.75,567.42 167.53,565.58 173.4,564.8 C179.27,564.02 184.2,563.8 188.7,563.6 C193.2,563.4 198.45,563.6 200.4,563.6" fill="none" stroke="#223" stroke-width="0.7" stroke-linejoin="round" />
<path d="M135.9,570.1 C137.27,569.52 141.77,568.57 144.1,566.6 C146.43,564.63 148.33,561.23 149.9,558.3 C151.47,555.37 152.32,551.33 153.5,549 C154.68,546.67 155.93,544.9 157,544.3 C158.07,543.7 158.93,544.43 159.9,545.4 C160.87,546.37 161.72,548.33 162.8,550.1 C163.88,551.87 165.02,554.13 166.4,556 C167.78,557.87 169.35,560.13 171.1,561.3 C172.85,562.47 174.08,562.63 176.9,563 C179.72,563.37 184.08,563.4 188,563.5 C191.92,563.6 198.33,563.58 200.4,563.6" fill="none" stroke="#333" stroke-width="0.6" stroke-linejoin="round" />
<path d="M135.9,570.1 C136.87,569.9 138.77,569.88 141.7,568.9 C144.63,567.92 150.75,567.13 153.5,564.2 C156.25,561.27 156.83,555.6 158.2,551.3 C159.57,547 160.53,541.62 161.7,538.4 C162.87,535.18 164.03,532.38 165.2,532 C166.37,531.62 167.53,533.67 168.7,536.1 C169.87,538.53 171.03,543.08 172.2,546.6 C173.37,550.12 174.33,554.57 175.7,557.2 C177.07,559.83 178.02,561.37 180.4,562.4 C182.78,563.43 186.67,563.2 190,563.4 C193.33,563.6 198.67,563.57 200.4,563.6" fill="none" stroke="#333" stroke-width="0.6" stroke-linejoin="round" />
<path d="M135.9,570.1 C138.83,569.8 149.2,569.48 153.5,568.3 C157.8,567.12 159.55,566.42 161.7,563 C163.85,559.58 165.03,553.27 166.4,547.8 C167.77,542.33 168.63,534.8 169.9,530.2 C171.17,525.6 172.83,520.98 174,520.2 C175.17,519.42 175.83,522.08 176.9,525.5 C177.97,528.92 179.22,536.2 180.4,540.7 C181.58,545.2 182.62,549.27 184,552.5 C185.38,555.73 186.95,558.38 188.7,560.1 C190.45,561.82 192.55,562.27 194.5,562.8 C196.45,563.33 199.42,563.22 200.4,563.3" fill="none" stroke="#4a4af0" stroke-width="0.7" stroke-linejoin="round" />
<path d="M135.9,570.1 C138.83,570 147.63,570.08 153.5,569.5 C159.37,568.92 167.4,567.68 171.1,566.6 C174.8,565.52 174.33,564.57 175.7,563 C177.07,561.43 178.12,558.85 179.3,557.2 C180.48,555.55 181.73,553.68 182.8,553.1 C183.87,552.52 184.72,553.02 185.7,553.7 C186.68,554.38 187.43,555.83 188.7,557.2 C189.97,558.57 191.35,560.88 193.3,561.9 C195.25,562.92 199.22,563.07 200.4,563.3" fill="none" stroke="#e84848" stroke-width="0.7" stroke-linejoin="round" />
<path d="M135.9,570.1 C136.87,569.7 139.95,568.88 141.7,567.7 C143.45,566.52 145.03,565.15 146.4,563 C147.77,560.85 148.72,558.32 149.9,554.8 C151.08,551.28 152.32,546.78 153.5,541.9 C154.68,537.02 155.83,530.18 157,525.5 C158.17,520.82 159.33,517.12 160.5,513.8 C161.67,510.48 162.83,507.52 164,505.6 C165.17,503.68 166.32,502.8 167.5,502.3 C168.68,501.8 169.92,501.67 171.1,502.6 C172.28,503.53 173.43,505.07 174.6,507.9 C175.77,510.73 176.93,515.3 178.1,519.6 C179.27,523.9 180.43,529.2 181.6,533.7 C182.77,538.2 183.92,542.88 185.1,546.6 C186.28,550.32 187.33,553.55 188.7,556 C190.07,558.45 191.75,560.13 193.3,561.3 C194.85,562.47 196.22,562.55 198,563 C199.78,563.45 203,563.83 204,564" fill="none" stroke="#c030c8" stroke-width="0.85" stroke-linejoin="round" />
<line x1="151.1" y1="514.4" x2="164.6" y2="530.8" stroke="#111" stroke-width="0.6"/>
<polygon points="164.6,530.8 160.67,528.86 163.45,526.57" fill="#111"/>
<line x1="148.8" y1="537.2" x2="155.8" y2="541.3" stroke="#111" stroke-width="0.6"/>
<polygon points="155.8,541.3 151.44,540.83 153.26,537.73" fill="#111"/>
<line x1="186.9" y1="510.8" x2="175.7" y2="519" stroke="#111" stroke-width="0.6"/>
<polygon points="175.7,519 177.86,515.18 179.99,518.09" fill="#111"/>
<line x1="193.9" y1="546.6" x2="185.1" y2="551.3" stroke="#111" stroke-width="0.6"/>
<polygon points="185.1,551.3 187.78,547.83 189.48,551" fill="#111"/>
<text x="122.8" y="516.8" font-size="10" fill="#111" textLength="27.4" lengthAdjust="spacingAndGlyphs">530.54</text>
<text x="121.4" y="541.2" font-size="10" fill="#111" textLength="27.8" lengthAdjust="spacingAndGlyphs">529.50</text>
<text x="189.9" y="515.2" font-size="10" fill="#111" textLength="27.4" lengthAdjust="spacingAndGlyphs">531.60</text>
<text x="195.6" y="550.4" font-size="10" fill="#111" textLength="27.4" lengthAdjust="spacingAndGlyphs">532.90</text>
<line x1="262.1" y1="505.2" x2="284.2" y2="505.2" stroke="#555" stroke-width="1"/>
<text x="287" y="509" font-size="9.5" fill="#111" textLength="25" lengthAdjust="spacingAndGlyphs">before</text>
<text x="144.8" y="617.3" font-size="10.8" fill="#111" textLength="92" lengthAdjust="spacingAndGlyphs">Binding Energy (eV)</text>
<line x1="433.5" y1="595.5" x2="695.8" y2="595.5" stroke="#787878" stroke-width="1"/>
<line x1="448" y1="595.5" x2="448" y2="598.7" stroke="#333" stroke-width="1"/>
<line x1="477.16" y1="595.5" x2="477.16" y2="598.7" stroke="#333" stroke-width="1"/>
<line x1="506.32" y1="595.5" x2="506.32" y2="598.7" stroke="#333" stroke-width="1"/>
<line x1="535.49" y1="595.5" x2="535.49" y2="598.7" stroke="#333" stroke-width="1"/>
<line x1="564.65" y1="595.5" x2="564.65" y2="598.7" stroke="#333" stroke-width="1"/>
<line x1="593.81" y1="595.5" x2="593.81" y2="598.7" stroke="#333" stroke-width="1"/>
<line x1="622.98" y1="595.5" x2="622.98" y2="598.7" stroke="#333" stroke-width="1"/>
<line x1="652.14" y1="595.5" x2="652.14" y2="598.7" stroke="#333" stroke-width="1"/>
<line x1="681.3" y1="595.5" x2="681.3" y2="598.7" stroke="#333" stroke-width="1"/>
<line x1="433.42" y1="595.5" x2="433.42" y2="597.3" stroke="#444" stroke-width="1"/>
<line x1="462.58" y1="595.5" x2="462.58" y2="597.3" stroke="#444" stroke-width="1"/>
<line x1="491.74" y1="595.5" x2="491.74" y2="597.3" stroke="#444" stroke-width="1"/>
<line x1="520.91" y1="595.5" x2="520.91" y2="597.3" stroke="#444" stroke-width="1"/>
<line x1="550.07" y1="595.5" x2="550.07" y2="597.3" stroke="#444" stroke-width="1"/>
<line x1="579.23" y1="595.5" x2="579.23" y2="597.3" stroke="#444" stroke-width="1"/>
<line x1="608.39" y1="595.5" x2="608.39" y2="597.3" stroke="#444" stroke-width="1"/>
<line x1="637.56" y1="595.5" x2="637.56" y2="597.3" stroke="#444" stroke-width="1"/>
<line x1="666.72" y1="595.5" x2="666.72" y2="597.3" stroke="#444" stroke-width="1"/>
<line x1="695.88" y1="595.5" x2="695.88" y2="597.3" stroke="#444" stroke-width="1"/>
<text x="448" y="608.6" font-size="9.3" fill="#1a1a1a" text-anchor="middle">565</text>
<text x="477.16" y="608.6" font-size="9.3" fill="#1a1a1a" text-anchor="middle">570</text>
<text x="506.32" y="608.6" font-size="9.3" fill="#1a1a1a" text-anchor="middle">575</text>
<text x="535.49" y="608.6" font-size="9.3" fill="#1a1a1a" text-anchor="middle">580</text>
<text x="564.65" y="608.6" font-size="9.3" fill="#1a1a1a" text-anchor="middle">585</text>
<text x="593.81" y="608.6" font-size="9.3" fill="#1a1a1a" text-anchor="middle">590</text>
<text x="622.98" y="608.6" font-size="9.3" fill="#1a1a1a" text-anchor="middle">595</text>
<text x="652.14" y="608.6" font-size="9.3" fill="#1a1a1a" text-anchor="middle">600</text>
<text x="681.3" y="608.6" font-size="9.3" fill="#1a1a1a" text-anchor="middle">605</text>
<text x="532.3" y="624.2" font-size="10" fill="#111" textLength="64.6" lengthAdjust="spacingAndGlyphs">Binding Energy</text>
<polyline points="458.1,447.32 459.02,446.5 459.84,445.7 460.88,444.33 461.64,440.39 462.57,444.2 463.57,447.87 464.53,444.3 465.33,445.58 466.4,446.88 467.29,448.03 468.05,443.84 468.8,442.07 469.65,443.76 470.72,447.58 471.78,442.04 472.8,445.18 473.78,444.41 474.84,448.65 475.79,446.19 476.58,445.84 477.34,444.31 478.38,444.31 479.26,448.27 479.98,445.3 480.99,445.35 481.76,443.07 482.49,448.09 483.57,441.88 484.56,442.89 485.37,445.67 486.26,446.1 487.06,443.68 487.82,441.69 488.79,440.14 489.68,445.68 490.56,440.82 491.56,442.68 492.32,443.58 493.36,443.84 494.42,442.05 495.39,440.49 496.44,446.85 497.28,442.93 498.26,438.54 499.1,439.94 500.13,442.2 500.89,441.7 501.88,437.76 502.6,440.93 503.63,440.96 504.52,440.27 505.37,440.9 506.36,437.39 507.2,438.38 507.93,441.39 508.92,439.28 509.79,440.8 510.81,438.14 511.6,434.94 512.52,436.75 513.42,439.42 514.47,435.48 515.53,434.57 516.46,433.5 517.43,435.98 518.34,437.76 519.18,434.11 519.92,434.92 520.84,434.28 521.81,434.78 522.6,433.86 523.41,432.03 524.43,432.71 525.5,431.85 526.55,429.98 527.47,430.59 528.36,426.68 529.31,426.77 530.1,426 530.94,431.4 531.73,431.2 532.74,429.12 533.52,428.21 534.49,430.07 535.26,430.21 536.02,430.76 536.84,430.66 537.62,429.47 538.42,434.55 539.21,432.92 540.07,429.65 541.07,429.43 542.13,433.76 542.88,433.08 543.71,433.12 544.76,434.13 545.66,431.83 546.67,430.91 547.65,429.95 548.69,434.04 549.74,431.09 550.47,429.12 551.34,429.14 552.27,432.1 553.27,430.06 554.01,430.71 554.86,432.08 555.8,434.67 556.56,431.33 557.61,432.81 558.56,434.06 559.3,433.33 560.1,431.06 560.96,431.85 561.74,430 562.49,431.1 563.28,431.92 564.25,428.65 565.25,431.44 566.19,431.95 567.06,431.9 567.98,432.87 568.97,430.86 569.84,429.36 570.75,430.27 571.7,435.12 572.52,432.38 573.59,428.91 574.58,431.5 575.45,435.18 576.32,433.52 577.24,433.58 578.12,431.62 578.87,432.08 579.72,428.8 580.78,426.06 581.67,427.06 582.65,431.68 583.69,430.39 584.47,430 585.5,430.53 586.47,427.6 587.53,432.18 588.61,431.88 589.44,431.44 590.22,432.87 591.14,429.85 592.11,427.46 592.86,429.09 593.84,429.18 594.63,430.69 595.52,428.85 596.44,430.39 597.41,431.98 598.32,428.87 599.15,426.41 600.05,427.14 601.08,429.43 601.88,428.45 602.75,428.34 603.6,428.77 604.56,426.62 605.35,422.95 606.08,422.09 607.15,425.29 608.17,427.63 609.01,424.5 610.02,427.48 611.06,426.73 611.81,424.47 612.72,420.86 613.79,426.38 614.76,426.59 615.5,427.73 616.29,425.29 617.07,422.95 617.97,423.77 619.01,422.2 620.01,422.31 620.97,420.41 621.98,423.55 623.06,424.97 623.93,424.91 624.97,424.52 625.94,421.55 626.93,420.35 628,422.18 628.9,422.67 629.82,422.33 630.71,421.76 631.63,419.66 632.42,419.15 633.27,422.83 633.99,422.22 634.93,423.7 635.69,420.53 636.43,417.42 637.51,414.96 638.58,419.14 639.61,416.48 640.68,414.4 641.54,419.96 642.5,414.41 643.27,412.22 644.09,414.56 645.09,416.89 645.98,413.2 647.06,414.41 648.11,414.26 649.01,413.83 650.01,415.72 650.75,413.84 651.61,408.8 652.68,411.43 653.63,412.12 654.37,411.89 655.4,406.22 656.12,409.1 656.95,409.77 657.91,407.69 658.72,401.81 659.52,403.74 660.31,406.16 661.14,400.81 661.91,402.52 662.95,402.61 663.75,403.13 664.55,398.73 665.35,398.07 666.38,395.35 667.12,392.01 668.09,395.18 668.91,393.62 669.66,392.04 670.58,389.22 671.65,388.48 672.69,384.09" fill="none" stroke="#ff4444" stroke-width="0.8" stroke-linejoin="round" />
<line x1="514" y1="438.7" x2="547.6" y2="435" stroke="#333" stroke-width="0.7"/>
<line x1="610.1" y1="386.4" x2="628.7" y2="386.4" stroke="#ff8080" stroke-width="1"/>
<text x="630.8" y="389.5" font-size="8.8" fill="#111" textLength="15.5" lengthAdjust="spacingAndGlyphs">after</text>
<line x1="433.3" y1="471.5" x2="696" y2="471.5" stroke="#888" stroke-width="1"/>
<polyline points="454.9,575.93 455.58,578.53 456.27,579.07 457.13,584.79 457.82,582.48 458.64,574.66 459.31,576.83 460.24,583.94 461.07,580.41 461.95,576.32 462.84,574.85 463.79,581 464.5,579.42 465.22,580.49 465.95,572.08 466.83,570.01 467.52,573.98 468.21,577.83 468.87,579.52 469.55,581.38 470.49,581.76 471.3,573.92 472.24,576.37 473.05,580.8 473.82,575.94 474.75,569.2 475.5,572.95 476.23,567.96 476.89,573.55 477.7,573.48 478.61,580.66 479.31,576.73 480.24,573.46 481.05,575.18 482,580.82 482.9,579.34 483.76,573.66 484.44,572.92 485.17,578.54 485.88,578.25 486.8,580.3 487.73,581.13 488.61,576.3 489.35,582.41 490.11,582.85 490.95,585.94 491.77,583.41 492.67,577.25 493.62,573.62 494.4,579.71" fill="none" stroke="#5050ff" stroke-width="0.85" stroke-linejoin="round" />
<polyline points="554.1,554.34 555.03,552.82 555.79,546.39 556.5,540.46 557.39,544.19 558.33,552.11 559.01,552.3 559.92,552.1 560.63,546.77 561.51,546.89 562.24,541.42 563.02,538.58 563.87,538.31 564.65,541.38 565.32,536.42 565.99,534.19 566.82,529.55 567.71,534 568.35,534.33 569.27,529.78 570.16,521.68 571,520.89 571.92,523.54 572.88,522.5 573.61,528.14 574.38,531.55 575.33,523.15 576.26,521.98 577.15,534.02 577.99,535.79 578.7,534.03 579.65,532.99 580.35,538.45 581.02,535.07 581.82,541.16 582.72,539.89 583.51,528.05 584.45,539 585.24,545.47 586.13,540.53 586.92,542.36 587.75,538.47 588.52,535.21 589.2,533.92 590.01,539.48 590.71,539.07 591.43,546.26 592.08,548.24 593.03,540.13 593.72,538.23 594.47,536.49 595.23,546.96 596.05,545.2 596.81,550 597.75,546.72 598.46,540.52 599.16,540.2 600.06,542.18 600.85,541.3 601.78,542.28 602.73,544.44 603.45,542.67 604.38,539.13 605.08,540.33 606,547.02 606.87,544.45 607.75,541.42 608.4,540.78 609.13,542.45 610,551.45 610.71,545.88 611.51,540.44 612.17,535.48 613,538.98 613.72,547.45 614.43,548.93 615.2,542.86 616,544.17 616.96,544.55 617.8,537.33 618.57,539.27 619.36,546.15 620.17,550.16 621,547.18 621.69,548.84 622.59,547.46 623.39,541.16 624.09,539.63 624.97,541.09 625.91,543.13 626.58,545.51 627.38,541.03 628.04,537.17 628.98,545.72 629.76,544.41 630.66,540.6 631.45,539.94 632.19,547.28 633.03,549.64 633.81,551.21 634.5,549.15 635.19,545.63 636.12,545.97 637.04,548.09 637.92,544.37 638.78,541.83 639.72,547.56 640.67,543.31 641.32,542.64 642.04,543.32 642.71,544.79 643.57,546.59 644.43,543.75 645.13,539.97 646.01,544.81 646.76,540.87 647.59,545.77 648.24,547.02 649.11,548.51 649.83,540.72 650.5,542.2 651.29,537.61 652.07,533.53 652.71,541.86 653.38,541.38 654.09,545.02 654.91,549.82 655.77,537.76 656.56,538.7 657.41,542.47 658.21,543.19 659.05,538.41 659.69,544.95 660.54,541.62 661.47,543.54 662.22,544.34 662.87,543.86 663.76,545.99 664.46,544.08 665.19,537.12 666.01,536.69 666.87,539.74 667.81,547.06 668.59,547.83 669.46,539.48 670.21,539.56" fill="none" stroke="#5050ff" stroke-width="0.85" stroke-linejoin="round" />
<path d="M495,576.2 C496.77,576.12 502.85,576.28 505.6,575.7 C508.35,575.12 509.35,574.77 511.5,572.7 C513.65,570.63 516.17,566.03 518.5,563.3 C520.83,560.57 523.15,557.85 525.5,556.3 C527.85,554.75 530.05,554.55 532.6,554 C535.15,553.45 537.08,553.25 540.8,553 C544.52,552.75 552.55,552.58 554.9,552.5" fill="none" stroke="#e858e8" stroke-width="0.7" stroke-linejoin="round" />
<path d="M495,576.2 C495.78,575.72 498.13,575.05 499.7,573.3 C501.27,571.55 503.03,570.1 504.4,565.7 C505.77,561.3 506.82,552.97 507.9,546.9 C508.98,540.83 510.02,533.12 510.9,529.3 C511.78,525.48 512.32,524.58 513.2,524 C514.08,523.42 515.12,523.73 516.2,525.8 C517.28,527.87 518.53,533.08 519.7,536.4 C520.87,539.72 521.83,543.17 523.2,545.7 C524.57,548.23 525.95,550.32 527.9,551.6 C529.85,552.88 530.4,553.17 534.9,553.4 C539.4,553.63 551.57,553.07 554.9,553" fill="none" stroke="#40a040" stroke-width="0.7" stroke-linejoin="round" />
<path d="M495,576.2 C496.77,576.02 502.85,576.27 505.6,575.1 C508.35,573.93 509.73,572.92 511.5,569.2 C513.27,565.48 514.83,557.48 516.2,552.8 C517.57,548.12 518.53,544.03 519.7,541.1 C520.87,538.17 522.23,536.08 523.2,535.2 C524.17,534.32 524.62,534.92 525.5,535.8 C526.38,536.68 527.32,538.65 528.5,540.5 C529.68,542.35 530.95,545.08 532.6,546.9 C534.25,548.72 536.17,550.48 538.4,551.4 C540.63,552.32 543.25,552.22 546,552.4 C548.75,552.58 553.42,552.48 554.9,552.5" fill="none" stroke="#ff4848" stroke-width="0.7" stroke-linejoin="round" />
<polyline points="495,576.1 495.84,574.82 496.8,573.5 497.82,573.6 498.56,573.08 499.5,573.91 500.34,576.39 501.14,574.02 501.93,568.43 502.68,570.16 503.41,568.28 504.4,567.7 505.46,563.59 506.34,556.76 507.36,550.2 508.42,545.65 509.34,538.15 510.07,532.91 510.91,524.99 511.83,520.53 512.57,516.43 513.61,513.97 514.36,514.09 515.17,512.91 516.24,512.88 516.98,511.21 517.95,510.45 518.74,511.57 519.79,516.05 520.74,523.48 521.58,526.92 522.53,522.12 523.47,520.07 524.19,525.47 525.04,532.28 525.95,534.88 526.97,532.61 528,533.84 528.8,541.21 529.73,543.19 530.67,544.61 531.65,540.4 532.69,541.39 533.59,537.94 534.38,542.66 535.26,543.63 536.2,544.57 536.92,545.06 537.96,553.28 538.98,553.89 539.93,546.52 540.92,549.78 541.83,554.08 542.8,558.04 543.85,551.55 544.6,548.87 545.45,553.43 546.37,551.09 547.11,550.49 548.12,551.53 549.12,558 549.9,555.49 550.8,554.83 551.79,554.76 552.61,553.52 553.44,547.68 554.42,551.2" fill="none" stroke="#505050" stroke-width="0.9" stroke-linejoin="round" />
<path d="M495,576.2 C495.78,575.82 498.13,575.45 499.7,573.9 C501.27,572.35 503.22,570.03 504.4,566.9 C505.58,563.77 506.02,559.6 506.8,555.1 C507.58,550.6 508.32,545.17 509.1,539.9 C509.88,534.63 510.72,527.7 511.5,523.5 C512.28,519.3 513.12,516.67 513.8,514.7 C514.48,512.73 514.92,511.8 515.6,511.7 C516.28,511.6 517.03,512.63 517.9,514.1 C518.77,515.57 519.72,517.97 520.8,520.5 C521.88,523.03 523.22,526.65 524.4,529.3 C525.58,531.95 526.73,534.05 527.9,536.4 C529.07,538.75 530.03,541.25 531.4,543.4 C532.77,545.55 534.33,547.93 536.1,549.3 C537.87,550.67 538.87,551.12 542,551.6 C545.13,552.08 552.75,552.1 554.9,552.2" fill="none" stroke="#2a2aa0" stroke-width="1.1" stroke-linejoin="round" />
<line x1="503.2" y1="508.8" x2="515" y2="510.6" stroke="#111" stroke-width="0.6"/>
<polygon points="515,510.6 510.77,511.78 511.32,508.22" fill="#111"/>
<line x1="499.1" y1="521.1" x2="513.2" y2="523.5" stroke="#111" stroke-width="0.6"/>
<polygon points="513.2,523.5 508.95,524.6 509.56,521.05" fill="#111"/>
<line x1="532" y1="527.6" x2="526.1" y2="532.3" stroke="#111" stroke-width="0.6"/>
<polygon points="526.1,532.3 528.11,528.4 530.35,531.22" fill="#111"/>
<text x="475.7" y="511.8" font-size="9.2" fill="#111" textLength="25" lengthAdjust="spacingAndGlyphs">576.58</text>
<text x="474.4" y="523.7" font-size="9.2" fill="#111" textLength="25" lengthAdjust="spacingAndGlyphs">576.34</text>
<text x="532.3" y="528.1" font-size="9.2" fill="#111" font-style="italic" textLength="24.8" lengthAdjust="spacingAndGlyphs">577.85</text>
<line x1="617.7" y1="518.3" x2="636" y2="518.3" stroke="#5a5aff" stroke-width="1"/>
<text x="638.2" y="521.4" font-size="8.8" fill="#111" textLength="21.3" lengthAdjust="spacingAndGlyphs">before</text>
</svg>
</body></html>
